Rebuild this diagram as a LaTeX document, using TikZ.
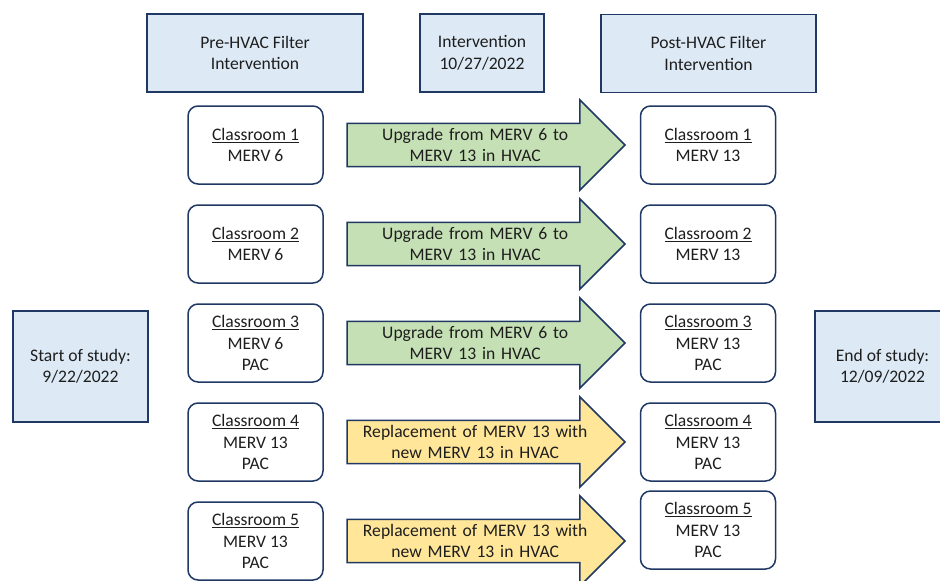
\documentclass[tikz,border=0pt]{standalone}
\usepackage{fontspec}
\setmainfont{Carlito}
\usetikzlibrary{positioning,shapes.arrows}

\definecolor{navy}{RGB}{31,56,100}
\definecolor{headblue}{RGB}{221,234,246}
\definecolor{upgreen}{RGB}{197,224,180}
\definecolor{swapyellow}{RGB}{255,230,153}
\definecolor{inkgray}{RGB}{30,30,30}

\begin{document}
\begin{tikzpicture}[
x=1pt, y=-1pt,
font=\fontsize{17.6}{21.5}\selectfont, text=inkgray,
node distance=21pt,
header/.style={draw=navy, fill=headblue, line width=1.5pt, inner sep=0pt, outer sep=0pt, align=center, minimum height=78pt},
room/.style={draw=navy, line width=1.5pt, rounded corners=10pt, minimum width=135pt, minimum height=78pt, inner sep=0pt, outer sep=0pt, align=center},
change/.style={single arrow, draw=navy, line width=1.5pt, single arrow head extend=23.5pt, single arrow tip angle=90, minimum height=278pt, inner xsep=0pt, inner ysep=4pt, outer sep=0pt, text width=236pt, align=center}
]
\useasboundingbox (0,0) rectangle (940,581);

% headers
\node[header, minimum width=216pt] (pre) at (255,53) {Pre-HVAC Filter\\Intervention};
\node[header, minimum width=124pt] (interv) at (482,53) {Intervention\\10/27/2022};
\node[header, minimum width=215pt] (post) at (708.5,53.5) {Post-HVAC Filter\\Intervention};

\node[header, minimum width=135pt, minimum height=111pt] (start) at (80.5,366.5) {Start of study:\\9/22/2022};
\node[header, minimum width=135pt, minimum height=111pt] (finish) at (882.5,366.5) {End of study:\\12/09/2022};

% before
\node[room] (pre1) at (255.5,145) {\underline{Classroom 1}\\MERV 6};
\node[room, below=of pre1] (pre2) {\underline{Classroom 2}\\MERV 6};
\node[room, below=of pre2] (pre3) {\underline{Classroom 3}\\MERV 6\\PAC};
\node[room, below=of pre3] (pre4) {\underline{Classroom 4}\\MERV 13\\PAC};
\node[room, below=of pre4] (pre5) {\underline{Classroom 5}\\MERV 13\\PAC};

% after
\node[room] (post1) at (708,145) {\underline{Classroom 1}\\MERV 13};
\node[room, below=of post1] (post2) {\underline{Classroom 2}\\MERV 13};
\node[room, below=of post2] (post3) {\underline{Classroom 3}\\MERV 13\\PAC};
\node[room, below=of post3] (post4) {\underline{Classroom 4}\\MERV 13\\PAC};
\node[room, below=10pt of post4] (post5) {\underline{Classroom 5}\\MERV 13\\PAC};

% filter changes
\node[change, fill=upgreen, right=24pt of pre1] (arr1) {Upgrade from MERV 6 to\\MERV 13 in HVAC};
\node[change, fill=upgreen, right=24pt of pre2] (arr2) {Upgrade from MERV 6 to\\MERV 13 in HVAC};
\node[change, fill=upgreen, right=24pt of pre3] (arr3) {Upgrade from MERV 6 to\\MERV 13 in HVAC};
\node[change, fill=swapyellow, right=24pt of pre4] (arr4) {Replacement of MERV 13 with\\new MERV 13 in HVAC};
\node[change, fill=swapyellow, right=24pt of pre5] (arr5) {Replacement of MERV 13 with\\new MERV 13 in HVAC};

\end{tikzpicture}
\end{document}
